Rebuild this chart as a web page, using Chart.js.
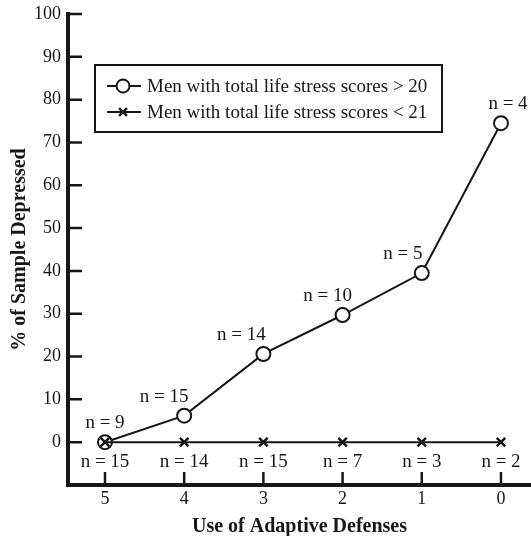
<!DOCTYPE html>
<html>
<head>
<meta charset="utf-8">
<title>Depression and Adaptive Defenses</title>
<script src="https://cdn.jsdelivr.net/npm/chart.js@4.4.0/dist/chart.umd.min.js"></script>
<style>
  html, body { margin: 0; padding: 0; background: #ffffff; }
  #wrap { width: 531px; height: 536px; }
</style>
</head>
<body>
<div id="wrap"><canvas id="chart" width="531" height="536"></canvas></div>
<script>
// ---- data ----
const defenseLevels = [5, 4, 3, 2, 1, 0];
const highStressPct = [0, 6.2, 20.6, 29.7, 39.5, 74.5];
const lowStressPct = [0, 0, 0, 0, 0, 0];
const highStressN = [9, 15, 14, 10, 5, 4];
const lowStressN = [15, 14, 15, 7, 3, 2];
const yTickValues = [0, 10, 20, 30, 40, 50, 60, 70, 80, 90, 100];
const seriesNames = [
  'Men with total life stress scores > 20',
  'Men with total life stress scores < 21'
];
const xAxisTitle = 'Use of Adaptive Defenses';
const yAxisTitle = '% of Sample Depressed';

// ---- styling ----
const INK = '#161616';
const SERIF = '"Liberation Serif", "Times New Roman", serif';
const LABEL_FONT = '19px ' + SERIF;
// horizontal nudge of each "n = …" label sitting above the circles
const aboveLabelShift = [0, -20, -22, -15, -19, 7];

Chart.defaults.font.family = SERIF;
Chart.defaults.color = INK;

// keep the plot area exactly where the layout padding puts it
const zeroScalePadding = s => {
  s.paddingTop = 0; s.paddingBottom = 0; s.paddingLeft = 0; s.paddingRight = 0;
};

// Axis lines and inward-pointing tick marks
const axisFrame = {
  id: 'axisFrame',
  afterDraw(chart) {
    const { ctx, chartArea: a, scales: { x, y } } = chart;
    ctx.save();
    ctx.strokeStyle = INK;
    ctx.lineCap = 'square';
    ctx.lineWidth = 4;
    ctx.beginPath();
    ctx.moveTo(a.left, a.top);
    ctx.lineTo(a.left, a.bottom);
    ctx.lineTo(a.right, a.bottom);
    ctx.stroke();
    ctx.lineCap = 'butt';
    ctx.lineWidth = 2.5;
    ctx.beginPath();
    y.ticks.forEach(t => {
      const py = y.getPixelForValue(t.value);
      ctx.moveTo(a.left, py);
      ctx.lineTo(a.left + 14, py);
    });
    x.ticks.forEach(t => {
      const px = x.getPixelForValue(t.value);
      ctx.moveTo(px, a.bottom);
      ctx.lineTo(px, a.bottom - 13);
    });
    ctx.stroke();
    ctx.restore();
  }
};

// "n = …" sample sizes next to each point
const sampleSizes = {
  id: 'sampleSizes',
  afterDatasetsDraw(chart) {
    const { ctx } = chart;
    ctx.save();
    ctx.font = LABEL_FONT;
    ctx.fillStyle = INK;
    ctx.textAlign = 'center';
    ctx.textBaseline = 'middle';
    chart.getDatasetMeta(0).data.forEach((pt, i) => {
      ctx.fillText('n = ' + highStressN[i], pt.x + aboveLabelShift[i], pt.y - 19);
    });
    chart.getDatasetMeta(1).data.forEach((pt, i) => {
      ctx.fillText('n = ' + lowStressN[i], pt.x, pt.y + 20);
    });
    ctx.restore();
  }
};

// Framed legend inside the plot area
const boxedLegend = {
  id: 'boxedLegend',
  afterDraw(chart) {
    const { ctx, chartArea: a } = chart;
    const left = a.left + 27, top = a.top + 51, w = 347, h = 67;
    ctx.save();
    ctx.strokeStyle = INK;
    ctx.lineWidth = 2;
    ctx.strokeRect(left, top, w, h);
    ctx.font = LABEL_FONT;
    ctx.textBaseline = 'middle';
    ctx.textAlign = 'left';
    chart.data.datasets.forEach((ds, i) => {
      const cy = top + 21 + i * 26;
      ctx.strokeStyle = INK;
      ctx.lineWidth = 2;
      ctx.beginPath();
      ctx.moveTo(left + 12, cy);
      ctx.lineTo(left + 46, cy);
      ctx.stroke();
      ctx.fillStyle = '#ffffff';
      ctx.lineWidth = ds.pointStyle === 'circle' ? 2 : 2.5;
      Chart.helpers.drawPoint(ctx, {
        pointStyle: ds.pointStyle,
        radius: ds.pointStyle === 'circle' ? 6.5 : 5.5,
        borderWidth: 2,
        rotation: 0
      }, left + 28, cy);
      ctx.fillStyle = INK;
      ctx.fillText(ds.label, left + 52, cy + 1);
    });
    ctx.restore();
  }
};

new Chart(document.getElementById('chart'), {
  type: 'line',
  data: {
    datasets: [
      {
        label: seriesNames[0],
        data: defenseLevels.map((lvl, i) => ({ x: lvl, y: highStressPct[i] })),
        borderColor: INK,
        borderWidth: 2,
        pointStyle: 'circle',
        pointRadius: 7,
        pointBorderWidth: 2,
        pointBackgroundColor: '#ffffff',
        pointBorderColor: INK,
        tension: 0,
        clip: false,
        order: 1
      },
      {
        label: seriesNames[1],
        data: defenseLevels.map((lvl, i) => ({ x: lvl, y: lowStressPct[i] })),
        borderColor: INK,
        borderWidth: 2,
        pointStyle: 'crossRot',
        pointRadius: 6,
        pointBorderWidth: 2.5,
        pointBorderColor: INK,
        tension: 0,
        clip: false,
        order: 0
      }
    ]
  },
  options: {
    responsive: false,
    animation: false,
    events: [],
    devicePixelRatio: 1,
    layout: { autoPadding: false, padding: { top: 14, left: 0, right: 0, bottom: 0 } },
    plugins: {
      legend: { display: false },
      tooltip: { enabled: false }
    },
    scales: {
      x: {
        type: 'linear',
        reverse: true,
        min: -0.379,
        max: 5.467,
        grid: { display: false, drawTicks: false },
        border: { display: false },
        afterBuildTicks: s => { s.ticks = defenseLevels.map(v => ({ value: v })); },
        afterFit: s => { s.height = 51; zeroScalePadding(s); },
        ticks: {
          font: { size: 18 },
          color: INK,
          padding: 3,
          callback: v => String(v)
        },
        title: {
          display: true,
          text: xAxisTitle,
          font: { size: 20, weight: 'bold', lineHeight: 1 },
          color: INK,
          padding: { top: 0, bottom: -1 }
        }
      },
      y: {
        min: -10,
        max: 100,
        grid: { display: false, drawTicks: false },
        border: { display: false },
        afterBuildTicks: s => { s.ticks = yTickValues.map(v => ({ value: v })); },
        afterFit: s => { s.width = 68; zeroScalePadding(s); },
        ticks: {
          font: { size: 18 },
          color: INK,
          padding: 7,
          callback: v => String(v)
        },
        title: {
          display: true,
          text: yAxisTitle,
          font: { size: 20, weight: 'bold' },
          color: INK,
          padding: { top: 8, bottom: 0 }
        }
      }
    }
  },
  plugins: [axisFrame, sampleSizes, boxedLegend]
});
</script>
</body>
</html>
